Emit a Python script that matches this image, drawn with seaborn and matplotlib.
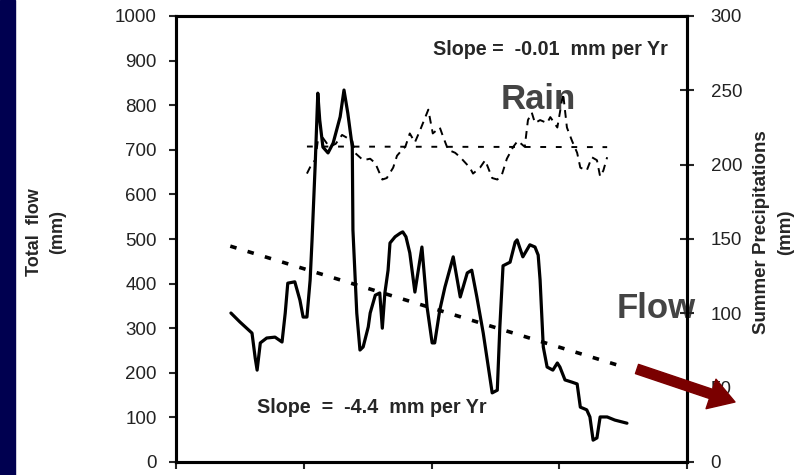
import matplotlib
matplotlib.use('Agg')
import matplotlib.pyplot as plt
import seaborn as sns
import pandas as pd
from matplotlib.patches import Rectangle

# flow (mm), left axis
flow_year = [1928.6, 1930.0, 1931.9, 1932.4, 1932.7, 1933.2, 1934.2, 1935.5, 1936.6, 1937.1,
             1937.5, 1938.6, 1939.4, 1939.9, 1940.5, 1941.0, 1941.3, 1941.8, 1942.2, 1942.5,
             1943.0, 1943.8, 1944.6, 1945.7, 1946.3, 1946.9, 1947.6, 1947.7, 1948.3, 1948.8,
             1949.3, 1950.1, 1950.4, 1951.2, 1951.9, 1952.3, 1952.7, 1953.2, 1953.5, 1954.3,
             1955.1, 1955.5, 1956.0, 1956.6, 1957.4, 1958.5, 1959.3, 1960.1, 1960.5, 1961.3,
             1962.1, 1963.4, 1964.5, 1965.6, 1966.3, 1967.1, 1968.1, 1969.5, 1970.3, 1970.7,
             1971.2, 1972.3, 1973.1, 1973.4, 1974.3, 1975.4, 1976.2, 1976.7, 1977.0, 1977.5,
             1978.1, 1979.0, 1979.7, 1980.1, 1980.9, 1982.0, 1982.8, 1983.3, 1984.3, 1984.8,
             1985.3, 1985.9, 1986.4, 1987.5, 1988.7, 1990.6]
flow_mm = [334, 314, 289, 233, 206, 267, 278, 280, 269, 334,
           401, 404, 363, 325, 325, 408, 498, 670, 827, 767,
           706, 693, 715, 774, 834, 782, 706, 520, 334, 251,
           258, 303, 334, 374, 379, 300, 379, 430, 491, 505,
           513, 516, 505, 469, 381, 482, 348, 267, 267, 341,
           392, 460, 370, 424, 430, 370, 289, 155, 161, 303,
           440, 448, 493, 498, 460, 487, 482, 464, 408, 258,
           213, 206, 222, 213, 184, 179, 175, 123, 117, 101,
           49, 54, 101, 101, 94, 87]

# summer precipitation (mm), right axis
rain_year = [1940.5, 1941.3, 1941.8, 1942.2, 1943.0, 1944.0, 1945.0, 1946.0, 1947.6, 1948.0,
             1949.3, 1950.4, 1951.2, 1951.9, 1952.3, 1953.0, 1954.0, 1954.6, 1955.4, 1955.9,
             1956.6, 1957.4, 1958.2, 1959.5, 1960.2, 1961.3, 1961.8, 1962.6, 1963.7, 1964.5,
             1966.0, 1966.5, 1967.6, 1968.4, 1969.5, 1970.3, 1971.0, 1971.8, 1972.8, 1973.5,
             1974.6, 1975.1, 1975.7, 1976.2, 1977.0, 1978.1, 1978.6, 1979.7, 1980.1, 1980.6,
             1981.2, 1982.0, 1982.8, 1983.3, 1984.3, 1985.1, 1985.9, 1986.4, 1986.9, 1987.5]
rain_mm = [194, 201, 203, 216, 218, 212, 214, 220, 216, 208,
           203, 204, 201, 194, 190, 191, 198, 206, 210, 212,
           221, 215, 223, 237, 221, 225, 219, 210, 208, 205,
           198, 194, 198, 203, 191, 190, 193, 204, 212, 216,
           212, 230, 235, 228, 230, 228, 232, 225, 235, 248,
           225, 216, 208, 198, 196, 205, 203, 192, 196, 205]

# trend lines
flow_trend_year = [1928.5, 1989.2]
flow_trend = [484, 217]
rain_trend_year = [1940.5, 1987.5]
rain_trend = [212.2, 211.8]

flow_df = pd.DataFrame({'year': flow_year, 'flow': flow_mm})
rain_df = pd.DataFrame({'year': rain_year, 'rain': rain_mm})

sns.set_style('white')
plt.rcParams['font.family'] = ['Liberation Sans', 'DejaVu Sans']

fig = plt.figure(figsize=(8.06, 4.75), dpi=100)
ax = fig.add_axes([176/806, 13/475, 511/806, 446/475])
ax2 = ax.twinx()

# navy strip on the left edge
fig.patches.append(Rectangle((0, 0), 15/806, 1, transform=fig.transFigure, color='#000050', zorder=0))

sns.lineplot(data=flow_df, x='year', y='flow', ax=ax, color='black', lw=2.3, sort=False)
ax.plot(flow_trend_year, flow_trend, color='black', lw=2.6, ls=(0, (1.8, 3.2)))

sns.lineplot(data=rain_df, x='year', y='rain', ax=ax2, color='black', lw=1.4, sort=False,
             ls=(0, (4, 3)))
ax2.plot(rain_trend_year, rain_trend, color='black', lw=1.4, ls=(0, (3, 5)))

ax.set_xlim(1920, 2000)
ax.set_ylim(0, 1000)
ax2.set_ylim(0, 300)
ax.set_xticks([1920, 1940, 1960, 1980, 2000])
ax.set_xticklabels([])
ax.set_yticks(range(0, 1001, 100))
ax2.set_yticks(range(0, 301, 50))
ax.set_xlabel('')

for a in (ax, ax2):
    for s in a.spines.values():
        s.set_linewidth(2.2)
        s.set_color('black')
ax.tick_params(axis='y', direction='out', length=5, width=1.5, pad=9, labelsize=13.5, labelcolor='#222222')
ax.tick_params(axis='x', direction='out', length=5, width=1.5, bottom=True)
ax2.tick_params(axis='y', direction='inout', length=10, width=1.5, pad=12, labelsize=13.5, labelcolor='#222222', right=True)

ax.set_ylabel('Total  flow\n(mm)', fontsize=13, fontweight='bold', linespacing=1.45)
ax.yaxis.set_label_coords(-0.215, 0.515)
ax2.set_ylabel('Summer Precipitations\n(mm)', fontsize=13.5, fontweight='bold', linespacing=1.5)
ax2.yaxis.set_label_coords(1.13, 0.515)

ax.text(1978.6, 924, 'Slope =  -0.01  mm per Yr', fontsize=14.2, fontweight='bold', ha='center', va='center')
ax.text(1950.7, 123, 'Slope  =  -4.4  mm per Yr', fontsize=14.2, fontweight='bold', ha='center', va='center')
ax.text(1976.7, 812, 'Rain', fontsize=25, fontweight='bold', color='#444444', ha='center', va='center')
ax.text(1995.1, 345, 'Flow', fontsize=25, fontweight='bold', color='#444444', ha='center', va='center')

# dark red arrow pointing out of the plot
ax2.annotate('', xy=(735, 73), xytext=(637, 106), xycoords='figure pixels', textcoords='figure pixels',
             annotation_clip=False,
             arrowprops=dict(arrowstyle='simple,head_width=1.6,head_length=1.3,tail_width=0.5',
                             color='#7a0000', mutation_scale=14, shrinkA=0, shrinkB=0))

fig.savefig('out.png', dpi=100)
